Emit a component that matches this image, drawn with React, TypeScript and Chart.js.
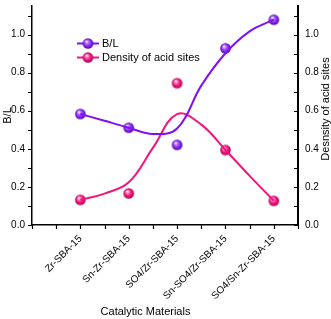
import React, { useEffect, useRef } from "react";
import { Chart, registerables } from "chart.js";

Chart.register(...registerables);

// Catalysts on the x axis
const categories = [
  "Zr-SBA-15",
  "Sn-Zr-SBA-15",
  "SO4/Zr-SBA-15",
  "Sn-SO4/Zr-SBA-15",
  "SO4/Sn-Zr-SBA-15",
];

// Measured values (one per catalyst)
const blRatio = [0.583, 0.511, 0.421, 0.928, 1.078];
const acidDensity = [0.132, 0.166, 0.745, 0.394, 0.127];

// Smoothed trend lines, sampled every half category
const trendX = [0, 0.5, 1, 1.5, 2, 2.5, 3, 3.5, 4];
const blTrend = [0.583, 0.547, 0.511, 0.478, 0.507, 0.732, 0.902, 1.017, 1.078];
const densityTrend = [0.132, 0.165, 0.224, 0.405, 0.582, 0.527, 0.394, 0.258, 0.127];

// Axis ticks
const yTicks = [0, 0.1, 0.2, 0.3, 0.4, 0.5, 0.6, 0.7, 0.8, 0.9, 1.0, 1.1];
const yLabelled = [0, 0.2, 0.4, 0.6, 0.8, 1.0];
const xTicks = [-1, -0.5, 0, 0.5, 1, 1.5, 2, 2.5, 3, 3.5, 4, 4.5];

const PURPLE = "#7f10f5";
const PINK = "#f5137c";
const FONT = "'Liberation Sans', Arial, sans-serif";

function makeSphere(light: string, base: string, dark: string, r: number) {
  const size = Math.ceil(r * 2 + 2);
  const c = document.createElement("canvas");
  c.width = size;
  c.height = size;
  const ctx = c.getContext("2d")!;
  const cx = size / 2;
  const cy = size / 2;
  const g = ctx.createRadialGradient(cx - r * 0.3, cy - r * 0.4, r * 0.05, cx, cy, r);
  g.addColorStop(0, "#ffffff");
  g.addColorStop(0.22, light);
  g.addColorStop(0.6, base);
  g.addColorStop(1, dark);
  ctx.fillStyle = g;
  ctx.beginPath();
  ctx.arc(cx, cy, r, 0, Math.PI * 2);
  ctx.fill();
  return c;
}

export default function App() {
  const ref = useRef<HTMLCanvasElement | null>(null);

  useEffect(() => {
    if (!ref.current) return;
    const purpleBall = makeSphere("#c08cff", "#8a30f2", "#5200a8", 5.3);
    const pinkBall = makeSphere("#ff8fc2", "#f2177e", "#b0004f", 5.3);

    const decor = {
      id: "decor",
      afterDraw(chart: any) {
        const ctx = chart.ctx as CanvasRenderingContext2D;
        const x = chart.scales.x;
        const y = chart.scales.y;
        const y2 = chart.scales.y2;
        const area = chart.chartArea;
        ctx.save();
        ctx.strokeStyle = "#000";
        ctx.lineWidth = 1.2;
        ctx.beginPath();
        yTicks.forEach((v) => {
          const py = Math.round(y.getPixelForValue(v)) + 0.5;
          ctx.moveTo(area.left - 4, py);
          ctx.lineTo(area.left, py);
          const py2 = Math.round(y2.getPixelForValue(v)) + 0.5;
          ctx.moveTo(area.right - 4, py2);
          ctx.lineTo(area.right, py2);
        });
        xTicks.forEach((v) => {
          const px = Math.round(x.getPixelForValue(v)) + 0.5;
          ctx.moveTo(px, area.bottom);
          ctx.lineTo(px, area.bottom + 4);
        });
        ctx.stroke();

        // axis titles
        ctx.fillStyle = "#000";
        ctx.font = `11px ${FONT}`;
        ctx.textAlign = "center";
        ctx.textBaseline = "middle";
        ctx.fillText("Catalytic Materials", 145.5, 312);
        ctx.save();
        ctx.translate(7.5, (area.top + area.bottom) / 2);
        ctx.rotate(-Math.PI / 2);
        ctx.fillText("B/L", 0, 0);
        ctx.restore();
        ctx.save();
        ctx.translate(326, 109);
        ctx.rotate(-Math.PI / 2);
        ctx.fillText("Desnsity of acid sites", 0, 0);
        ctx.restore();

        // legend
        const items = [
          { label: "B/L", color: PURPLE, ball: purpleBall, yy: 43.5 },
          { label: "Density of acid sites", color: PINK, ball: pinkBall, yy: 57.5 },
        ];
        items.forEach((it) => {
          ctx.strokeStyle = it.color;
          ctx.lineWidth = 2;
          ctx.beginPath();
          ctx.moveTo(77, it.yy);
          ctx.lineTo(99, it.yy);
          ctx.stroke();
          ctx.drawImage(it.ball, 88 - it.ball.width / 2, it.yy - it.ball.height / 2);
          ctx.fillStyle = "#000";
          ctx.textAlign = "left";
          ctx.fillText(it.label, 102, it.yy + 0.5);
        });
        ctx.restore();
      },
    };

    const chart = new Chart(ref.current, {
      type: "scatter",
      data: {
        datasets: [
          {
            label: "B/L trend",
            data: trendX.map((v, i) => ({ x: v, y: blTrend[i] })),
            yAxisID: "y",
            showLine: true,
            borderColor: PURPLE,
            borderWidth: 2,
            pointRadius: 0,
            tension: 0.4,
          },
          {
            label: "Density trend",
            data: trendX.map((v, i) => ({ x: v, y: densityTrend[i] })),
            yAxisID: "y2",
            showLine: true,
            borderColor: PINK,
            borderWidth: 2,
            pointRadius: 0,
            tension: 0.4,
          },
          {
            label: "B/L",
            data: blRatio.map((v, i) => ({ x: i, y: v })),
            yAxisID: "y",
            pointStyle: purpleBall,
            pointRadius: 5,
            showLine: false,
          },
          {
            label: "Density of acid sites",
            data: acidDensity.map((v, i) => ({ x: i, y: v })),
            yAxisID: "y2",
            pointStyle: pinkBall,
            pointRadius: 5,
            showLine: false,
          },
        ],
      },
      options: {
        responsive: false,
        animation: false,
        devicePixelRatio: 1,
        layout: { padding: 0 },
        plugins: { legend: { display: false }, tooltip: { enabled: false } },
        scales: {
          x: {
            type: "linear",
            min: -1,
            max: 4.5,
            afterBuildTicks: (s: any) => {
              s.ticks = xTicks.map((v) => ({ value: v }));
            },
            afterFit: (s: any) => {
              s.height = 94;
              s.paddingLeft = 0;
              s.paddingRight = 0;
            },
            grid: { drawOnChartArea: false, drawTicks: false },
            border: { display: true, color: "#000", width: 1.5 },
            ticks: {
              autoSkip: false,
              minRotation: 45,
              maxRotation: 45,
              padding: 8,
              color: "#000",
              font: { family: FONT, size: 10 },
              callback: (v: any) => {
                const n = Number(v);
                return Number.isInteger(n) && n >= 0 && n < categories.length ? categories[n] : "";
              },
            },
          },
          y: {
            position: "left",
            min: 0,
            max: 1.15,
            afterBuildTicks: (s: any) => {
              s.ticks = yLabelled.map((v) => ({ value: v }));
            },
            afterFit: (s: any) => {
              s.width = 32;
              s.paddingTop = 0;
              s.paddingBottom = 0;
            },
            grid: { drawOnChartArea: false, drawTicks: false },
            border: { display: true, color: "#000", width: 1.5 },
            ticks: {
              padding: 7,
              color: "#000",
              font: { family: FONT, size: 10 },
              callback: (v: any) => Number(v).toFixed(1),
            },
          },
          y2: {
            position: "right",
            min: 0,
            max: 1.15,
            afterBuildTicks: (s: any) => {
              s.ticks = yLabelled.map((v) => ({ value: v }));
            },
            afterFit: (s: any) => {
              s.width = 33;
              s.paddingTop = 0;
              s.paddingBottom = 0;
            },
            grid: { drawOnChartArea: false, drawTicks: false },
            border: { display: true, color: "#000", width: 2 },
            ticks: {
              padding: 7,
              color: "#000",
              font: { family: FONT, size: 10 },
              callback: (v: any) => Number(v).toFixed(1),
            },
          },
        },
      },
      plugins: [decor],
    });
    return () => chart.destroy();
  }, []);

  return (
    <div style={{ position: "absolute", left: 0, top: 0, width: 331, height: 319, background: "#fff" }}>
      <canvas ref={ref} width={331} height={319} style={{ display: "block" }} />
    </div>
  );
}
